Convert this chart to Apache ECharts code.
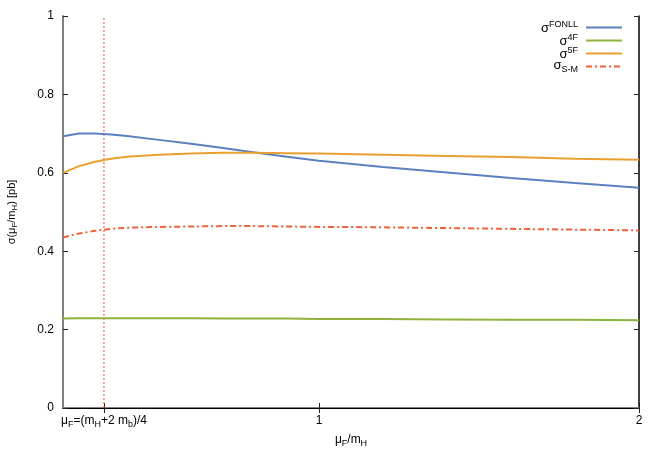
<!DOCTYPE html>
<html>
<head>
<meta charset="utf-8">
<script src="https://cdn.jsdelivr.net/npm/echarts@6/dist/echarts.min.js"></script>
<style>
  html, body { margin: 0; padding: 0; background: #fff; }
  #chart { width: 662px; height: 463px; }
</style>
</head>
<body>
<div id="chart"></div>
<script>
// mu_F / m_H sample points
const scales = [0.2, 0.25, 0.3, 0.35, 0.4, 0.5, 0.6, 0.7, 0.8, 0.9, 1.0, 1.2, 1.4, 1.6, 1.8, 2.0];
const sigmaFONLL = [0.693, 0.700, 0.700, 0.698, 0.694, 0.684, 0.674, 0.663, 0.652, 0.641, 0.631, 0.615, 0.601, 0.587, 0.574, 0.562];
const sigma4F = [0.228, 0.229, 0.229, 0.229, 0.229, 0.229, 0.229, 0.228, 0.228, 0.228, 0.227, 0.227, 0.226, 0.225, 0.225, 0.224];
const sigma5F = [0.600, 0.617, 0.628, 0.636, 0.641, 0.646, 0.649, 0.651, 0.651, 0.650, 0.649, 0.646, 0.643, 0.640, 0.636, 0.633];
const sigmaSM = [0.435, 0.445, 0.452, 0.457, 0.460, 0.462, 0.463, 0.464, 0.464, 0.463, 0.462, 0.461, 0.459, 0.457, 0.455, 0.453];
// (m_H + 2 m_b)/4 in units of m_H
const refScale = 0.328;
const xTicks = [refScale, 1, 2];

const FONT = 'Liberation Sans, Arial, sans-serif';
// subscript: main text hangs from the top, small text sits on the bottom of the line box
const richSub = {
  n: { fontFamily: FONT, fontSize: 12, color: '#000', lineHeight: 12, verticalAlign: 'top' },
  s: { fontFamily: FONT, fontSize: 9, color: '#000', lineHeight: 14, verticalAlign: 'bottom' }
};
const richSubSmall = {
  n: { fontFamily: FONT, fontSize: 11, color: '#000', lineHeight: 11, verticalAlign: 'top' },
  s: { fontFamily: FONT, fontSize: 8, color: '#000', lineHeight: 13, verticalAlign: 'bottom' }
};
const richLegend = {
  n: { fontFamily: FONT, fontSize: 13, color: '#000', lineHeight: 15, verticalAlign: 'bottom' },
  p: { fontFamily: FONT, fontSize: 9, color: '#000', lineHeight: 9, verticalAlign: 'top' },
  m: { fontFamily: FONT, fontSize: 13, color: '#000', lineHeight: 13, verticalAlign: 'top' },
  s: { fontFamily: FONT, fontSize: 9, color: '#000', lineHeight: 15, verticalAlign: 'bottom' }
};

const seriesDefs = [
  { name: 'FONLL', data: sigmaFONLL, color: '#5b80bf', type: 'solid', label: '{n|σ}{p|FONLL}' },
  { name: '4F', data: sigma4F, color: '#8db33b', type: 'solid', label: '{n|σ}{p|4F}' },
  { name: '5F', data: sigma5F, color: '#e8a12f', type: 'solid', label: '{n|σ}{p|5F}' },
  { name: 'S-M', data: sigmaSM, color: '#f0603a', type: [6, 3, 2, 3], label: '{m|σ}{s|S-M}' }
];

const legendTops = [20, 33, 46, 59];

const chart = echarts.init(document.getElementById('chart'));

const series = seriesDefs.map((s) => ({
  name: s.name,
  type: 'line',
  data: scales.map((x, k) => [x, s.data[k]]),
  symbol: 'none',
  color: s.color,
  lineStyle: { color: s.color, width: 2, type: s.type },
  z: 3
}));
// vertical reference line at mu_F = (m_H + 2 m_b)/4
series.push({
  name: 'ref',
  type: 'line',
  data: [[refScale, 0], [refScale, 1]],
  symbol: 'none',
  silent: true,
  lineStyle: { color: '#ff4040', width: 1, type: [2, 2] },
  z: 2
});

const option = {
  animation: false,
  textStyle: { fontFamily: FONT },
  legend: seriesDefs.map((s, i) => ({
    data: [s.name],
    right: 39,
    top: legendTops[i],
    align: 'right',
    itemWidth: 36,
    itemHeight: 8,
    padding: 0,
    selectedMode: false,
    itemStyle: { opacity: 0, color: 'rgba(0,0,0,0)', borderWidth: 0 },
    formatter: () => s.label,
    textStyle: { rich: richLegend, padding: [0, 3, 0, 0] }
  })),
  grid: { left: 63, right: 23, top: 16, bottom: 55, outerBoundsMode: 'none' },
  xAxis: [
    {
      type: 'value', min: 0.2, max: 2, position: 'bottom',
      name: '{n|μ}{s|F}{n|/m}{s|H}',
      nameLocation: 'middle', nameGap: 24,
      nameTextStyle: { rich: richSub },
      axisLine: { lineStyle: { color: '#808080', width: 2 } },
      axisTick: { inside: true, length: 5, customValues: xTicks, lineStyle: { color: '#222' } },
      axisLabel: {
        customValues: xTicks, margin: 7,
        formatter: v => Math.abs(v - refScale) < 1e-6 ? '{n|μ}{s|F}{n|=(m}{s|H}{n|+2 m}{s|b}{n|)/4}' : '{n|' + v + '}',
        rich: richSub
      },
      splitLine: { show: false }
    },
    {
      type: 'value', min: 0.2, max: 2, position: 'top',
      axisLine: { lineStyle: { color: '#000', width: 1 } },
      axisTick: { inside: true, length: 5, customValues: xTicks, lineStyle: { color: '#222' } },
      axisLabel: { show: false },
      splitLine: { show: false }
    }
  ],
  yAxis: [
    {
      type: 'value', min: 0, max: 1, interval: 0.2, position: 'left',
      name: '{n|σ(μ}{s|F}{n|/m}{s|H}{n|) [pb]}',
      nameLocation: 'middle', nameGap: 44, nameRotate: 90,
      nameTextStyle: { rich: richSubSmall },
      axisLine: { show: true, lineStyle: { color: '#808080', width: 2 } },
      axisTick: { show: true, inside: true, length: 5, lineStyle: { color: '#222' } },
      axisLabel: { color: '#000', fontSize: 12, margin: 9, formatter: v => String(v) },
      splitLine: { show: false }
    },
    {
      type: 'value', min: 0, max: 1, interval: 0.2, position: 'right',
      axisLine: { show: true, lineStyle: { color: '#000', width: 1.5 } },
      axisTick: { show: true, inside: true, length: 5, lineStyle: { color: '#222' } },
      axisLabel: { show: false },
      splitLine: { show: false }
    }
  ],
  series: series
};

chart.setOption(option);
</script>
</body>
</html>
